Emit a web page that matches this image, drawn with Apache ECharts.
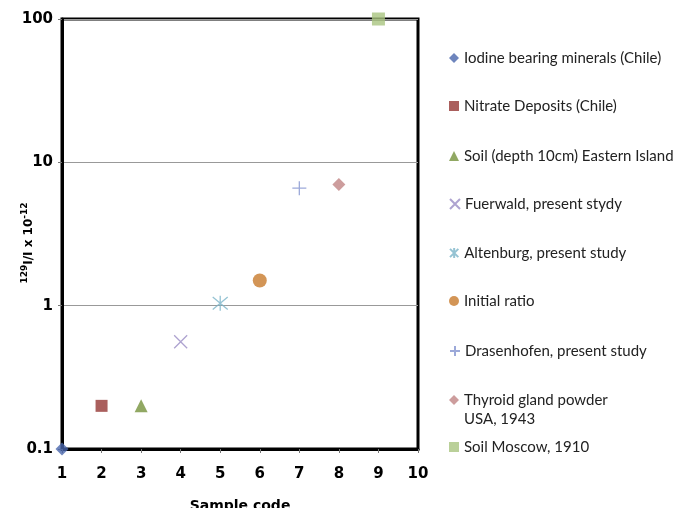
<!DOCTYPE html>
<html>
<head>
<meta charset="utf-8">
<script src="https://cdn.jsdelivr.net/npm/echarts@6/dist/echarts.min.js"></script>
<style>
  html, body { margin: 0; padding: 0; background: #fff; }
  #chart { width: 676px; height: 508px; }
</style>
</head>
<body>
<div id="chart"></div>
<script>
// data
var seriesNames = [
  'Iodine bearing minerals (Chile)',
  'Nitrate Deposits (Chile)',
  'Soil (depth 10cm) Eastern Island',
  'Fuerwald, present stydy',
  'Altenburg, present study',
  'Initial ratio',
  'Drasenhofen, present study',
  'Thyroid gland powder\nUSA, 1943',
  'Soil Moscow, 1910'
];
var sampleCodes = [1, 2, 3, 4, 5, 6, 7, 8, 9];
var ratios = [0.1, 0.2, 0.2, 0.56, 1.04, 1.5, 6.6, 7.0, 100];
var colors = ['#4a66ac', '#953735', '#76923c', '#9a8cc4', '#7ab4c8', '#c87a2c', '#8393cf', '#c08584', '#a9c47f'];
var symbols = [
  'diamond',
  'rect',
  'triangle',
  'path://M0,0 L10,10 M10,0 L0,10',          // x
  'path://M0,0 L10,10 M10,0 L0,10 M5,-1 L5,11', // asterisk
  'circle',
  'path://M0,5 L10,5 M5,0 L5,10',            // plus
  'diamond',
  'rect'
];
var symbolSizes = [13, 12, 13, 13, 15, 14, 14, 13, 13];
var lineOnly = [false, false, false, true, true, false, true, false, false];
var legendTops = [48.5, 96.5, 146.5, 194.5, 243.5, 291.5, 341.5, 371.5, 437.5];

var chart = echarts.init(document.getElementById('chart'));

var series = [];
var legends = [];
for (var i = 0; i < seriesNames.length; i++) {
  var style = lineOnly[i]
    ? { color: 'transparent', borderColor: colors[i], borderWidth: 1.3 }
    : { color: colors[i] };
  series.push({
    name: seriesNames[i],
    type: 'scatter',
    symbol: symbols[i],
    symbolSize: symbolSizes[i],
    clip: false,
    itemStyle: style,
    emphasis: { disabled: true },
    data: [[sampleCodes[i], ratios[i]]]
  });
  legends.push({
    data: [seriesNames[i]],
    left: 449,
    top: legendTops[i],
    padding: 0,
    itemWidth: 10,
    itemHeight: 10,
    // two-line entry: blank first line so the icon sits by "Thyroid gland powder"
    formatter: function (name) { return name.indexOf('\n') >= 0 ? '\n' + name : name; },
    textStyle: { fontFamily: 'Lato', fontSize: 15, color: '#222', lineHeight: 19 }
  });
}

var labelFont = { fontFamily: 'DejaVu Sans', fontWeight: 'bold', color: '#000' };

var option = {
  backgroundColor: '#fff',
  animation: false,
  grid: {
    left: 62, right: 258, top: 19, bottom: 59,
    outerBoundsMode: 'none',
    containLabel: false,
    show: true, borderColor: '#000', borderWidth: 3, backgroundColor: 'transparent'
  },
  legend: legends,
  xAxis: {
    type: 'value',
    min: 1, max: 10, interval: 1,
    name: 'Sample code',
    nameLocation: 'middle',
    nameGap: 50,
    nameMoveOverlap: false,
    nameTextStyle: Object.assign({ fontSize: 14 }, labelFont),
    axisLine: { lineStyle: { color: '#000', width: 3 } },
    axisTick: { show: true, length: 4, lineStyle: { color: '#777' } },
    axisLabel: Object.assign({ fontSize: 15, margin: 18 }, labelFont),
    splitLine: { show: false }
  },
  yAxis: {
    type: 'log',
    logBase: 10,
    min: 0.1, max: 100,
    name: '{sup|129}{b|I/I x 10}{sup|-12}',
    nameLocation: 'middle',
    nameGap: 27,
    nameMoveOverlap: false,
    nameTextStyle: {
      padding: [0, 18, 0, 0],
      rich: {
        b: Object.assign({ fontSize: 12, verticalAlign: 'bottom' }, labelFont),
        sup: Object.assign({ fontSize: 9, verticalAlign: 'top', padding: [0, 0, 6, 0] }, labelFont)
      }
    },
    axisLine: { show: true, lineStyle: { color: '#000', width: 3 } },
    axisTick: { show: true, length: 4, lineStyle: { color: '#777' } },
    axisLabel: Object.assign({
      fontSize: 15, margin: 9,
      formatter: function (v) { return String(Math.round(v * 10) / 10); }
    }, labelFont),
    splitLine: { show: true, lineStyle: { color: '#999', width: 1 } },
    minorTick: { show: false }
  },
  series: series
};

chart.setOption(option);
</script>
</body>
</html>
